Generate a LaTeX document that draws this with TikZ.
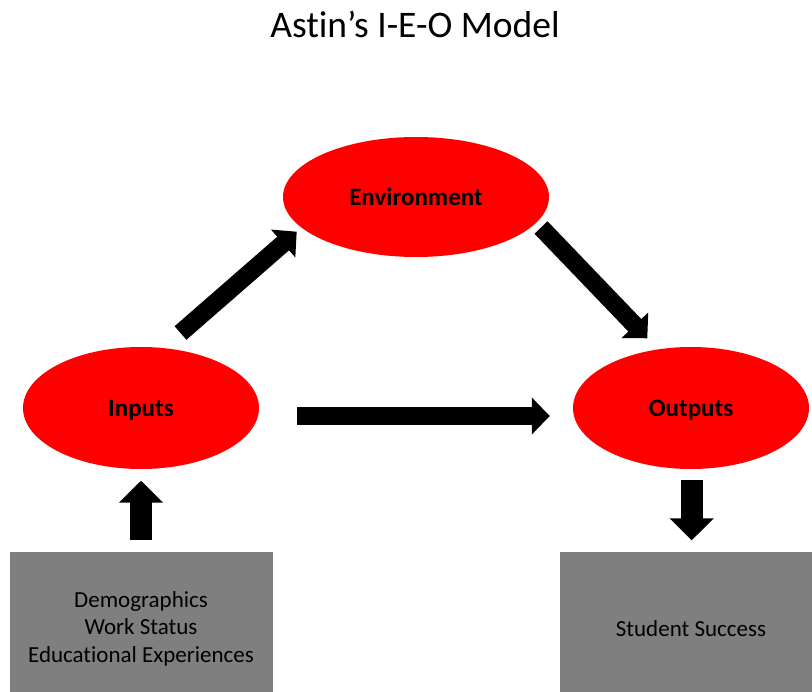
\documentclass[tikz,border=0pt]{standalone}
\usepackage{fontspec}
\setmainfont{Carlito}[Ligatures=NoCommon]
\usetikzlibrary{shapes.geometric,arrows.meta}
\definecolor{ieored}{RGB}{255,0,0}
\definecolor{boxgray}{RGB}{127,127,127}
\begin{document}
\begin{tikzpicture}[x=1pt,y=-1pt,
  stage/.style={ellipse,fill=ieored,draw=none,inner sep=0pt,
    minimum width=236pt,minimum height=122pt,text depth=0pt,
    font=\fontsize{25}{30}\selectfont\bfseries},
  infobox/.style={rectangle,fill=boxgray,draw=none,inner sep=0pt,
    minimum width=263pt,minimum height=152pt,align=center,
    font=\fontsize{23}{27.5}\selectfont},
  flow/.style={draw=black,line width=18pt,
    -{Triangle[length=18pt,width=36pt]}},
  vflow/.style={draw=black,line width=22pt,
    -{Triangle[length=22pt,width=43pt]}}]
\useasboundingbox (0,0) rectangle (812,692);

% title
\node[anchor=base,font=\fontsize{37.5}{44}\selectfont] (title) at (415,38)
  {Astin’s I-E-O Model};

% the three stages
\node[stage,minimum width=266pt,minimum height=120pt] (env) at (416,197) {Environment};
\node[stage] (inp) at (141,408) {Inputs};
\node[stage] (out) at (691,408) {Outputs};

% grey boxes (run past the lower edge)
\node[infobox] (dem) at (141,628.5)
  {Demographics\\Work Status\\Educational Experiences};
\node[infobox] (succ) at (691,628.5) {Student Success};

% ends of the diagonal arrows
\coordinate (ie1) at (180.5,333);
\coordinate (ie2) at (296.7,231.7);
\coordinate (eo1) at (541,227.5);
\coordinate (eo2) at (647.3,338.3);

% block arrows
\draw[flow] (ie1) -- (ie2);
\draw[flow] (eo1) -- (eo2);
\draw[flow,shorten <=38pt,shorten >=23pt]
  ([yshift=-8pt]inp.east) -- ([yshift=-8pt]out.west);
\draw[vflow,shorten <=12pt,shorten >=11.5pt] (dem.north) -- (inp.south);
\draw[vflow,shorten <=11pt,shorten >=12pt]
  ([xshift=0.7pt]out.south) -- ([xshift=0.7pt]succ.north);
\end{tikzpicture}
\end{document}
